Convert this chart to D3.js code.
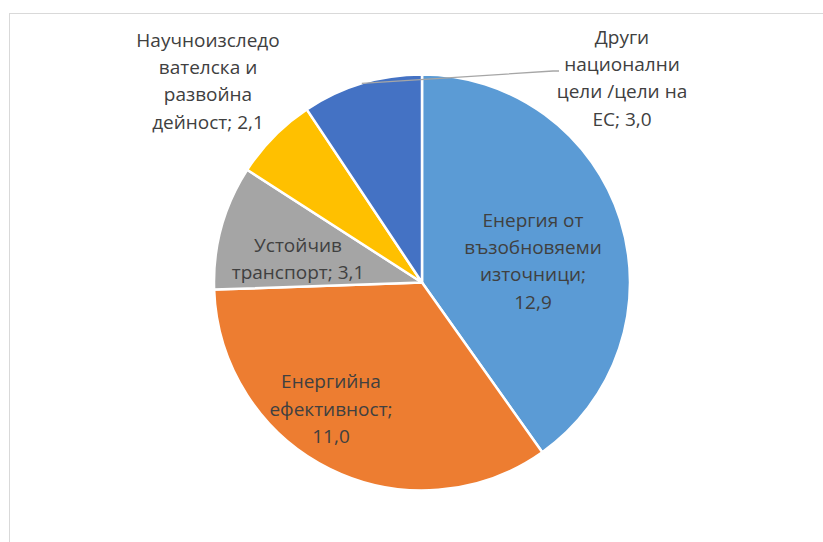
<!DOCTYPE html>
<html>
<head>
<meta charset="utf-8">
<script src="https://cdn.jsdelivr.net/npm/d3@7"></script>
<style>
  body { margin: 0; background: #fff; }
  svg text { font-family: "Open Sans", "Noto Sans", sans-serif; fill: #404040; }
</style>
</head>
<body>
<div id="chart"></div>
<script>
// Data
const categories = [
    "Енергия от възобновяеми източници",
    "Енергийна ефективност",
    "Устойчив транспорт",
    "Научноизследователска и развойна дейност",
    "Други национални цели /цели на ЕС"
];
const values = [12.9, 11.0, 3.1, 2.1, 3.0];
const labelLines = [
    ["Енергия от", "възобновяеми", "източници;", "12,9"],
    ["Енергийна", "ефективност;", "11,0"],
    ["Устойчив", "транспорт; 3,1"],
    ["Научноизследо", "вателска и", "развойна", "дейност; 2,1"],
    ["Други", "национални", "цели /цели на", "ЕС; 3,0"]
];
const colors = ["#5B9BD5", "#ED7D31", "#A5A5A5", "#FFC000", "#4472C4"];

const width = 823, height = 542;
const cx = 422, cy = 282.5, radius = 208;
const lineHeight = 27.3;

// label centres (layout only)
const labelPos = [[533, 261], [331, 409], [298, 259], [208, 81], [622, 78]];

const svg = d3.select('#chart').append('svg')
    .attr('width', width)
    .attr('height', height);

// chart frame
svg.append('rect')
    .attr('x', 9.5).attr('y', 13.5)
    .attr('width', width).attr('height', height)
    .attr('fill', 'none')
    .attr('stroke', '#D9D9D9')
    .attr('stroke-width', 1);

const pie = d3.pie().sort(null).value(d => d)(values);
const arc = d3.arc().innerRadius(0).outerRadius(radius);
const edge = d3.arc().innerRadius(radius).outerRadius(radius);

const g = svg.append('g').attr('transform', `translate(${cx},${cy})`);

g.selectAll('path')
    .data(pie)
    .enter()
    .append('path')
    .attr('d', arc)
    .attr('fill', (d, i) => colors[i])
    .attr('stroke', '#fff')
    .attr('stroke-width', 2.5)
    .attr('stroke-linejoin', 'round');

// leader line for the small "other" slice
const p0 = edge.centroid(pie[4]);
g.append('polyline')
    .attr('points', [[p0[0], p0[1]], [553 - cx, 71 - cy], [559 - cx, 71 - cy]].map(p => p.join(',')).join(' '))
    .attr('fill', 'none')
    .attr('stroke', '#A6A6A6')
    .attr('stroke-width', 1.3);

// labels
labelLines.forEach((lines, i) => {
    const [x, y] = labelPos[i];
    const t = svg.append('text')
        .attr('text-anchor', 'middle')
        .attr('font-size', '19px');
    const y0 = y - (lines.length - 1) * lineHeight / 2;
    lines.forEach((s, j) => {
        t.append('tspan')
            .attr('x', x)
            .attr('y', y0 + j * lineHeight)
            .attr('dy', '0.35em')
            .text(s);
    });
});
</script>
</body>
</html>
